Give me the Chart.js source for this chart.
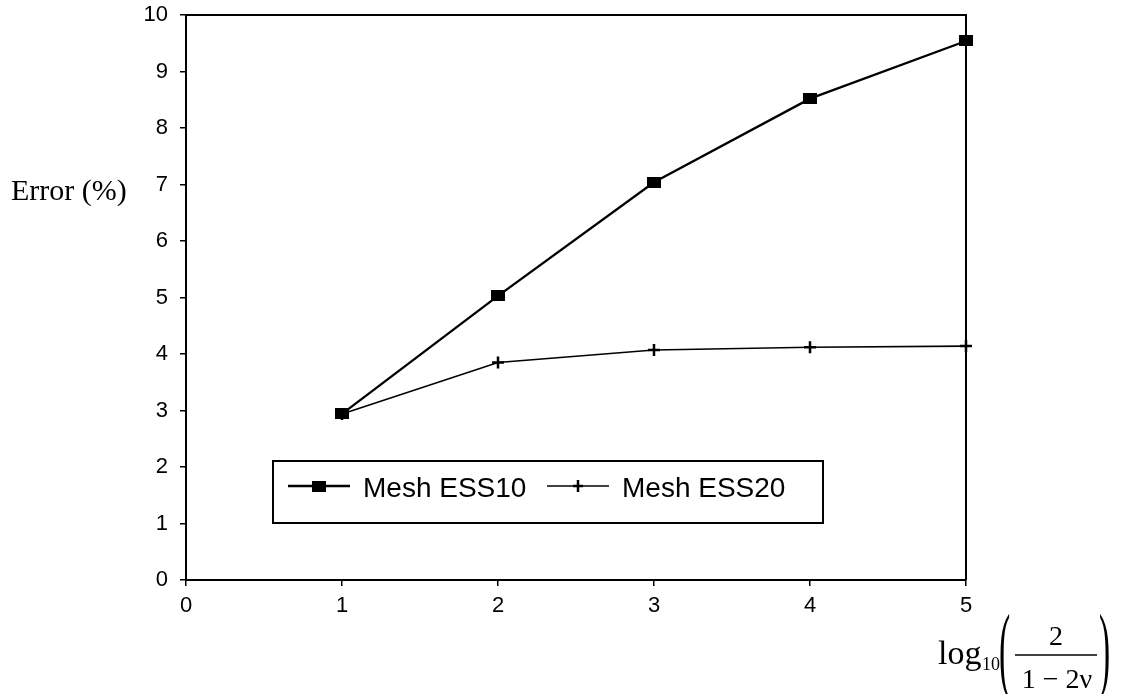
<!DOCTYPE html>
<html>
<head>
<meta charset="utf-8">
<script src="https://cdn.jsdelivr.net/npm/chart.js@4.4.1/dist/chart.umd.min.js"></script>
<style>
  html, body { margin: 0; padding: 0; background: #fff; }
  #wrap { position: relative; width: 1127px; height: 694px; }
</style>
</head>
<body>
<div id="wrap"><canvas id="chart" width="1127" height="694"></canvas></div>
<script>
// values
const xValues = [1, 2, 3, 4, 5];
const ess10 = [2.94, 5.03, 7.04, 8.52, 9.54];
const ess20 = [2.94, 3.85, 4.07, 4.12, 4.14];
const seriesNames = ["Mesh ESS10", "Mesh ESS20"];
const xTicks = [0, 1, 2, 3, 4, 5];
const yTicks = [0, 1, 2, 3, 4, 5, 6, 7, 8, 9, 10];

const sans = "'Liberation Sans', Arial, sans-serif";
const serif = "'Liberation Serif', 'Times New Roman', serif";

// filled rectangle marker, a bit wider than tall like the original
const rectMarker = document.createElement("canvas");
rectMarker.width = 14;
rectMarker.height = 11;
const rm = rectMarker.getContext("2d");
rm.fillStyle = "#000";
rm.fillRect(0, 0, 14, 11);

const toPoints = (ys) => xValues.map((x, i) => ({ x: x, y: ys[i] }));

// draws the box around the plot, legend and the two axis titles
const extras = {
  id: "extras",
  beforeDatasetsDraw(chart) {
    const { ctx, chartArea } = chart;
    ctx.save();
    ctx.strokeStyle = "#000";
    ctx.lineWidth = 2;
    ctx.beginPath();
    ctx.moveTo(chartArea.left, chartArea.top);
    ctx.lineTo(chartArea.right, chartArea.top);
    ctx.lineTo(chartArea.right, chartArea.bottom);
    ctx.stroke();
    ctx.restore();
  },
  afterDraw(chart) {
    const ctx = chart.ctx;
    const ds = chart.data.datasets;
    ctx.save();

    // legend box
    ctx.fillStyle = "#fff";
    ctx.fillRect(273, 461, 550, 62);
    ctx.strokeStyle = "#000";
    ctx.lineWidth = 2;
    ctx.strokeRect(273, 461, 550, 62);

    const rowY = 486;
    const items = [
      { x0: 288, x1: 350, textX: 363 },
      { x0: 547, x1: 609, textX: 622 }
    ];
    items.forEach((it, i) => {
      ctx.strokeStyle = "#000";
      ctx.lineWidth = ds[i].borderWidth;
      ctx.beginPath();
      ctx.moveTo(it.x0, rowY);
      ctx.lineTo(it.x1, rowY);
      ctx.stroke();
      const cx = (it.x0 + it.x1) / 2;
      if (i === 0) {
        ctx.drawImage(rectMarker, cx - 7, rowY - 5.5);
      } else {
        ctx.lineWidth = 2.5;
        ctx.beginPath();
        ctx.moveTo(cx - 5, rowY);
        ctx.lineTo(cx + 5, rowY);
        ctx.moveTo(cx, rowY - 6);
        ctx.lineTo(cx, rowY + 6);
        ctx.stroke();
      }
      ctx.fillStyle = "#000";
      ctx.font = "28px " + sans;
      ctx.textAlign = "left";
      ctx.textBaseline = "alphabetic";
      ctx.fillText(ds[i].label, it.textX, rowY + 11);
    });

    // y title
    ctx.fillStyle = "#000";
    ctx.font = "30px " + serif;
    ctx.textAlign = "left";
    ctx.textBaseline = "alphabetic";
    ctx.fillText("Error (%)", 11, 200);

    // x title: log10( 2 / (1 - 2v) )
    ctx.font = "34px " + serif;
    ctx.fillText("log", 938, 664);
    ctx.font = "18px " + serif;
    ctx.fillText("10", 982, 670);

    const paren = (ch, x) => {
      ctx.save();
      ctx.translate(x, 680);
      ctx.scale(1.2, 3.4);
      ctx.font = "28px " + serif;
      ctx.textAlign = "left";
      ctx.fillText(ch, 0, 0);
      ctx.restore();
    };
    paren("(", 999);
    paren(")", 1099);

    ctx.font = "28px " + serif;
    ctx.textAlign = "center";
    ctx.fillText("2", 1056, 645);
    ctx.fillText("1 \u2212 2\u03bd", 1057, 688);
    ctx.lineWidth = 1.5;
    ctx.beginPath();
    ctx.moveTo(1015, 655);
    ctx.lineTo(1097, 655);
    ctx.stroke();

    ctx.restore();
  }
};

new Chart(document.getElementById("chart"), {
  type: "line",
  data: {
    datasets: [
      {
        label: seriesNames[0],
        data: toPoints(ess10),
        borderColor: "#000",
        backgroundColor: "#000",
        borderWidth: 2.3,
        pointStyle: rectMarker,
        clip: false,
        tension: 0
      },
      {
        label: seriesNames[1],
        data: toPoints(ess20),
        borderColor: "#000",
        backgroundColor: "#000",
        borderWidth: 1.6,
        pointStyle: "cross",
        pointRadius: 6,
        pointBorderWidth: 2.5,
        clip: false,
        tension: 0
      }
    ]
  },
  options: {
    responsive: false,
    animation: false,
    layout: { padding: { left: 0, top: 15, right: 161, bottom: 74 } },
    plugins: {
      legend: { display: false },
      tooltip: { enabled: false }
    },
    scales: {
      x: {
        type: "linear",
        min: 0,
        max: 5,
        afterBuildTicks: (s) => { s.ticks = xTicks.map(v => ({ value: v })); },
        afterFit: (s) => { s.height = 40; s.paddingLeft = 0; s.paddingRight = 0; },
        ticks: { color: "#000", font: { family: sans, size: 22 }, padding: 7 },
        grid: { drawOnChartArea: false, color: "#000", lineWidth: 1.5, tickLength: 6 },
        border: { color: "#000", width: 2 }
      },
      y: {
        min: 0,
        max: 10,
        afterBuildTicks: (s) => { s.ticks = yTicks.map(v => ({ value: v })); },
        afterFit: (s) => { s.width = 186; s.paddingTop = 0; s.paddingBottom = 0; },
        ticks: { color: "#000", font: { family: sans, size: 22 }, padding: 12 },
        grid: { drawOnChartArea: false, color: "#000", lineWidth: 1.5, tickLength: 6 },
        border: { color: "#000", width: 2 }
      }
    }
  },
  plugins: [extras]
});
</script>
</body>
</html>
